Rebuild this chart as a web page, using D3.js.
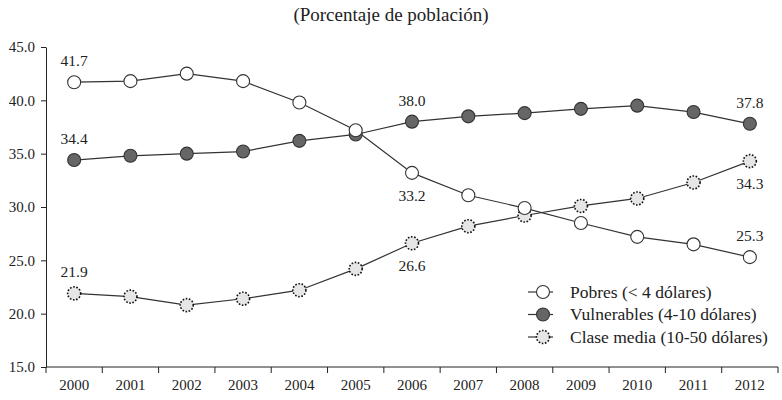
<!DOCTYPE html>
<html>
<head>
<meta charset="utf-8">
<script src="https://cdn.jsdelivr.net/npm/d3@7"></script>
<style>
  body { margin: 0; background: #fff; overflow: hidden; }
  svg { display: block; }
  text { font-family: "Liberation Serif", "DejaVu Serif", serif; fill: #222; }
</style>
</head>
<body>
<div id="chart"></div>
<script>
const width = 782;
const height = 400;
const margin = { top: 47, right: 4, bottom: 33, left: 46 };
const innerWidth = width - margin.left - margin.right;
const innerHeight = height - margin.top - margin.bottom;

// Data
const years = ['2000', '2001', '2002', '2003', '2004', '2005', '2006',
  '2007', '2008', '2009', '2010', '2011', '2012'];
const pobres = [41.7, 41.8, 42.5, 41.8, 39.8, 37.2, 33.2, 31.1, 29.9, 28.5, 27.2, 26.5, 25.3];
const vulnerables = [34.4, 34.8, 35.0, 35.2, 36.2, 36.8, 38.0, 38.5, 38.8, 39.2, 39.5, 38.9, 37.8];
const claseMedia = [21.9, 21.6, 20.8, 21.4, 22.2, 24.2, 26.6, 28.2, 29.2, 30.1, 30.8, 32.3, 34.3];
const yTicks = [15, 20, 25, 30, 35, 40, 45];

const seriesNames = ['Pobres (< 4 dólares)', 'Vulnerables (4-10 dólares)', 'Clase media (10-50 dólares)'];

// point labels: [series index, year index, position]
const labels = [
  [0, 0, 'above'], [0, 6, 'below'], [0, 12, 'above'],
  [1, 0, 'above'], [1, 6, 'above'], [1, 12, 'above'],
  [2, 0, 'above'], [2, 6, 'below'], [2, 12, 'below'],
];

const series = [pobres, vulnerables, claseMedia].map((values, i) => ({
  name: seriesNames[i],
  index: i,
  values: values.map((v, j) => ({ year: years[j], value: v })),
}));

const svg = d3.select('#chart')
  .append('svg')
  .attr('width', width)
  .attr('height', height);

const g = svg.append('g')
  .attr('transform', `translate(${margin.left}, ${margin.top})`);

// Scales
const xScale = d3.scaleBand()
  .domain(years)
  .range([0, innerWidth]);

const yScale = d3.scaleLinear()
  .domain([15, 45])
  .range([innerHeight, 0]);

// Title
svg.append('text')
  .attr('x', width / 2)
  .attr('y', 21)
  .attr('text-anchor', 'middle')
  .style('font-size', '19px')
  .text('(Porcentaje de población)');

// Y axis
const yAxis = d3.axisLeft(yScale)
  .tickValues(yTicks)
  .tickFormat(d3.format('.1f'))
  .tickSize(5)
  .tickSizeOuter(0);
const gY = g.append('g').call(yAxis);
gY.select('.domain').attr('stroke', '#222');
gY.selectAll('.tick line').attr('stroke', '#222');
gY.selectAll('.tick text')
  .attr('x', -11)
  .style('font-size', '15px')
  .style('font-family', '"Liberation Serif", serif')
  .attr('fill', '#222');

// X axis with ticks between categories
const gX = g.append('g')
  .attr('transform', `translate(0, ${innerHeight})`);
gX.append('line')
  .attr('x1', 0).attr('x2', innerWidth)
  .attr('stroke', '#222');
gX.selectAll('.xtick')
  .data(years.concat(['end']))
  .enter()
  .append('line')
  .attr('x1', (d, i) => i * xScale.step())
  .attr('x2', (d, i) => i * xScale.step())
  .attr('y1', 0).attr('y2', 6)
  .attr('stroke', '#222');
gX.selectAll('.xlabel')
  .data(years)
  .enter()
  .append('text')
  .attr('x', (d) => xScale(d) + xScale.bandwidth() / 2)
  .attr('y', 23)
  .attr('text-anchor', 'middle')
  .style('font-size', '15px')
  .text((d) => d);

// Lines
const line = d3.line()
  .x((d) => xScale(d.year) + xScale.bandwidth() / 2)
  .y((d) => yScale(d.value));

const markerStyle = [
  { fill: '#fff', stroke: '#333', dash: null, width: 1.1 },
  { fill: '#666', stroke: '#333', dash: null, width: 1.1 },
  { fill: '#e6e6e6', stroke: '#111', dash: '1.6,1.6', width: 1.6 },
];

series.forEach((s) => {
  g.append('path')
    .datum(s.values)
    .attr('fill', 'none')
    .attr('stroke', '#333')
    .attr('stroke-width', 1.2)
    .attr('d', line);
});

// Draw markers: clase media first, then vulnerables, then pobres on top
[2, 1, 0].forEach((i) => {
  const st = markerStyle[i];
  g.selectAll(`.m${i}`)
    .data(series[i].values)
    .enter()
    .append('circle')
    .attr('cx', (d) => xScale(d.year) + xScale.bandwidth() / 2)
    .attr('cy', (d) => yScale(d.value))
    .attr('r', 6.5)
    .attr('fill', st.fill)
    .attr('stroke', st.stroke)
    .attr('stroke-width', st.width)
    .attr('stroke-dasharray', st.dash);
});

// Point labels
g.selectAll('.plabel')
  .data(labels)
  .enter()
  .append('text')
  .attr('x', (d) => xScale(years[d[1]]) + xScale.bandwidth() / 2)
  .attr('y', (d) => {
    const v = series[d[0]].values[d[1]].value;
    return yScale(v) + (d[2] === 'above' ? -16 : 28);
  })
  .attr('text-anchor', 'middle')
  .style('font-size', '15.5px')
  .text((d) => d3.format('.1f')(series[d[0]].values[d[1]].value));

// Legend
const legend = svg.append('g')
  .attr('transform', 'translate(528, 292)');
const legendRows = legend.selectAll('g')
  .data(series)
  .enter()
  .append('g')
  .attr('transform', (d, i) => `translate(0, ${i * 22.5})`);
legendRows.append('line')
  .attr('x1', 0).attr('x2', 25)
  .attr('stroke', '#333')
  .attr('stroke-width', 1.2);
legendRows.append('circle')
  .attr('cx', 15)
  .attr('r', 6.5)
  .attr('fill', (d) => markerStyle[d.index].fill)
  .attr('stroke', (d) => markerStyle[d.index].stroke)
  .attr('stroke-width', (d) => markerStyle[d.index].width)
  .attr('stroke-dasharray', (d) => markerStyle[d.index].dash);
legendRows.append('text')
  .attr('x', 42)
  .attr('y', 5.5)
  .style('font-size', '17.5px')
  .text((d) => d.name);
</script>
</body>
</html>
